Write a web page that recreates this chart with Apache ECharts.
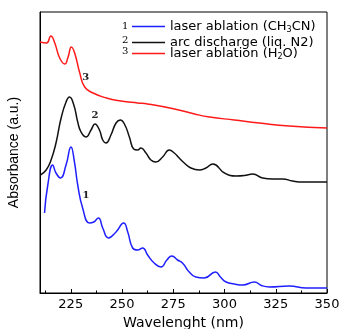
<!DOCTYPE html>
<html><head><meta charset="utf-8">
<script src="https://cdn.jsdelivr.net/npm/echarts@6/dist/echarts.min.js"></script>
<style>html,body{margin:0;padding:0;background:#fff}#c{width:343px;height:329px}</style>
</head><body><div id="c"></div>
<script>
// Wavelength (nm), absorbance (a.u., offset curves)
const blueX = [212.2,213.8,216.2,217.8,220.0,222.7,225.1,226.8,228.4,230.8,234.1,236.2,238.5,240.6,243.4,247.1,250.8,252.8,255.2,257.6,260.1,262.5,265.7,269.0,271.9,274.3,277.1,279.5,282.8,286.0,290.1,295.6,298.0,300.8,304.8,308.9,314.6,318.0,321.9,331.6,339.8,350];
const blueY = [0.80,1.08,1.28,1.20,1.15,1.28,1.46,1.31,1.08,0.85,0.70,0.71,0.75,0.65,0.55,0.61,0.70,0.61,0.45,0.43,0.45,0.38,0.30,0.26,0.33,0.37,0.33,0.30,0.21,0.16,0.15,0.21,0.16,0.11,0.09,0.08,0.11,0.075,0.06,0.07,0.05,0.05];
const blackX = [210.2,213.0,215.4,217.8,220.3,222.7,224.4,226.5,228.4,230.0,232.4,234.9,236.8,239.0,240.6,242.2,244.6,247.1,249.2,251.4,253.6,255.7,257.6,259.2,261.7,264.1,266.5,269.8,273.1,275.5,277.9,280.4,283.6,287.7,290.9,294.3,300.0,305.7,309.7,313.8,318.6,323.5,328.4,333.2,338.1,350];
const blackY = [1.18,1.23,1.33,1.50,1.75,1.91,1.96,1.88,1.71,1.61,1.56,1.63,1.69,1.63,1.53,1.50,1.58,1.70,1.73,1.68,1.56,1.44,1.43,1.45,1.40,1.33,1.31,1.36,1.43,1.40,1.35,1.30,1.25,1.23,1.25,1.29,1.20,1.17,1.175,1.19,1.15,1.14,1.14,1.12,1.11,1.11];
const redX = [210.0,213.2,215.3,217.2,219.6,222.1,223.7,225.3,226.9,229.4,231.8,235.9,242.4,249.5,257.6,262.5,275.6,285.4,292.7,304.8,317.0,331.6,350];
const redY = [2.51,2.50,2.57,2.50,2.35,2.29,2.36,2.46,2.40,2.20,2.06,2.00,1.95,1.92,1.90,1.89,1.84,1.79,1.76,1.73,1.70,1.67,1.65];
const seriesNames = ['laser ablation (CH{sub|3}CN)','arc discharge (liq. N2)','laser ablation (H{sub|2}O)'];
const curveTags = ['1','2','3'];
const tagX = [232.4,236.8,232.3];
const tagY = [0.98,1.78,2.16];
const majorTicks = [225,250,275,300,325,350];
const minorTicks = [212.5,237.5,262.5,287.5,312.5,337.5];

const zip = (xs, ys) => xs.map((x, i) => [x, ys[i]]);
const colors = ['#1f1fff','#111111','#ff1a1a'];
const dataSets = [zip(blueX, blueY), zip(blackX, blackY), zip(redX, redY)];

const chart = echarts.init(document.getElementById('c'));
const legendTops = [20, 36, 47];
const option = {
  animation: false,
  grid: {left: 40, right: 16, top: 12, bottom: 36, show: true, borderColor: '#000', borderWidth: 1, outerBoundsMode: 'none', containLabel: false},
  xAxis: [{
    type: 'value', min: 210, max: 350,
    axisLine: {show: true, lineStyle: {color: '#000', width: 1}},
    axisTick: {show: true, inside: true, length: 4, customValues: majorTicks, lineStyle: {color: '#000'}},
    axisLabel: {customValues: majorTicks, color: '#000', fontFamily: 'DejaVu Sans', fontSize: 13, margin: 5},
    splitLine: {show: false},
    name: 'Wavelenght (nm)', nameLocation: 'middle', nameGap: 23,
    nameTextStyle: {color: '#000', fontFamily: 'DejaVu Sans', fontSize: 14}
  }, {
    type: 'value', min: 210, max: 350, position: 'bottom',
    axisLine: {show: false},
    axisTick: {show: true, inside: true, length: 2.5, customValues: minorTicks, lineStyle: {color: '#000'}},
    axisLabel: {show: false}, splitLine: {show: false}
  }],
  yAxis: {
    type: 'value', min: 0, max: 2.81,
    axisLine: {show: true, lineStyle: {color: '#000'}},
    axisTick: {show: false}, axisLabel: {show: false}, splitLine: {show: false},
    name: 'Absorbance (a.u.)', nameLocation: 'middle', nameGap: 19, nameRotate: 90,
    nameTextStyle: {color: '#000', fontFamily: 'Liberation Sans', fontSize: 14}
  },
  legend: seriesNames.map((n, i) => ({
    data: [n], left: 132, top: legendTops[i], orient: 'vertical',
    icon: 'rect', itemWidth: 33, itemHeight: 1.5, itemGap: 0, padding: 0,
    textStyle: {color: '#000', fontFamily: 'DejaVu Sans', fontSize: 13,
      rich: {sub: {fontSize: 8, fontFamily: 'DejaVu Sans', color: '#000', verticalAlign: 'bottom', padding: [7, 0, 0, 0]}}}
  })),
  graphic: curveTags.map((t, i) => ({
    type: 'text', left: 122, top: legendTops[i] + (i === 0 ? 1 : -1),
    style: {text: t, font: '10px "DejaVu Serif"', fill: '#000'}
  })),
  series: dataSets.map((d, i) => ({
    name: seriesNames[i], type: 'line', data: d, smooth: 0.5, showSymbol: false, symbol: 'none',
    lineStyle: {color: colors[i], width: 1.5}, itemStyle: {color: colors[i]},
    markPoint: {
      symbol: 'circle', symbolSize: 0,
      label: {show: true, formatter: curveTags[i], color: '#222', fontFamily: 'DejaVu Serif', fontSize: 10, fontWeight: 'bold', position: 'inside'},
      data: [{coord: [tagX[i], tagY[i]]}]
    }
  }))
};
chart.setOption(option);
</script></body></html>
